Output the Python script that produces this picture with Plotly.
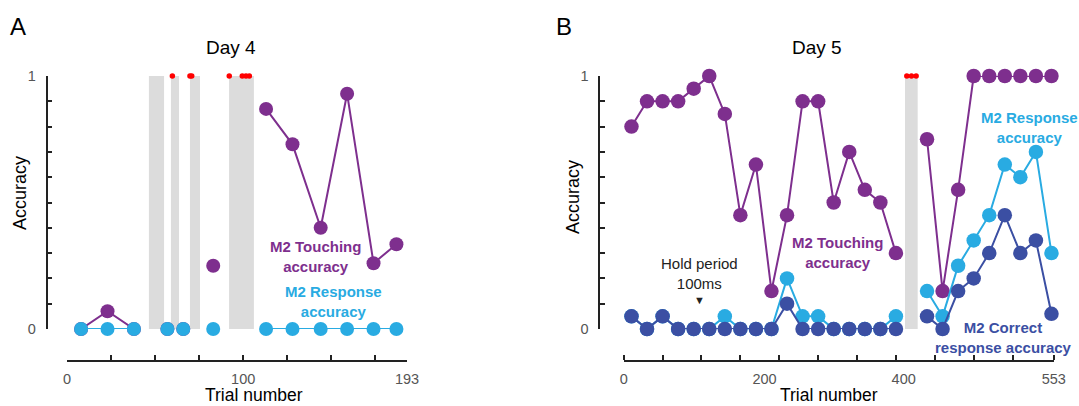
import plotly.graph_objects as go

W, H = 1079, 406


def px(x):
    return x / W


def py(y):
    return 1 - y / H


# ---------------- Panel A (Day 4) ----------------
trial_A = [8, 23, 38, 57, 66, 83, 113, 128, 144, 159, 174, 187]
segment_A = [0, 0, 0, 1, 2, 3, 4, 4, 4, 4, 4, 4]
touch_A = [0, 0.07, 0, 0, 0, 0.25, 0.87, 0.73, 0.40, 0.93, 0.26, 0.335]
response_A = [0, 0, 0, 0, 0, 0, 0, 0, 0, 0, 0, 0]
gap_start_A = [46.5, 59.0, 69.8, 92.0]
gap_end_A = [55.1, 63.6, 75.5, 106.1]
noresp_A = [59.8, 69.8, 70.8, 92.1, 99.5, 101.6, 103.5]
xticks_A = [0, 25, 50, 75, 100, 125, 150, 175, 193]
xticklabels_A = ["0", "", "", "", "100", "", "", "", "193"]

# ---------------- Panel B (Day 5) ----------------
trial_B = [10, 30, 50, 70, 90, 110, 130, 150, 170, 190, 210, 230, 250, 270, 290, 310, 330, 350,
           390, 410, 430, 450, 470, 490, 510, 530, 550]
segment_B = [0] * 18 + [1] * 9
touch_B = [0.80, 0.90, 0.90, 0.90, 0.95, 1.0, 0.85, 0.45, 0.65, 0.15, 0.45, 0.90, 0.90, 0.50,
           0.70, 0.55, 0.50, 0.30,
           0.75, 0.15, 0.55, 1.0, 1.0, 1.0, 1.0, 1.0, 1.0]
response_B = [0.05, 0, 0.05, 0, 0, 0, 0.05, 0, 0, 0, 0.20, 0.05, 0.05, 0, 0, 0, 0, 0.05,
              0.15, 0.05, 0.25, 0.35, 0.45, 0.65, 0.60, 0.70, 0.30]
correct_B = [0.05, 0, 0.05, 0, 0, 0, 0, 0, 0, 0, 0.10, 0, 0, 0, 0, 0, 0, 0,
             0.05, 0, 0.15, 0.20, 0.30, 0.45, 0.30, 0.35, 0.06]
gap_start_B = [361.7]
gap_end_B = [378.0]
noresp_B = [364, 370, 376]
xtick_marks_B = [0, 50, 100, 150, 200, 250, 300, 350, 400, 450, 500, 553]
xlabel_pos_B = [0, 181, 360, 553]
xlabel_text_B = ["0", "200", "400", "553"]

PURPLE = "#7E2F8E"
CYAN = "#29ABE2"
DARK = "#3B4FA3"
GRAY = "#DCDCDC"
RED = "#FF0000"
FONT = "Liberation Sans, Arial, sans-serif"


def with_breaks(xs, ys, segs):
    ox, oy = [], []
    for i, (x, y, s) in enumerate(zip(xs, ys, segs)):
        if i > 0 and s != segs[i - 1]:
            ox.append(None)
            oy.append(None)
        ox.append(x)
        oy.append(y)
    return ox, oy


fig = go.Figure()


def add_series(xs, ys, segs, color, size, xa, ya, name):
    bx, by = with_breaks(xs, ys, segs)
    fig.add_trace(go.Scatter(
        x=bx, y=by, mode="lines+markers", name=name, xaxis=xa, yaxis=ya,
        line=dict(color=color, width=2), marker=dict(color=color, size=size, line=dict(width=0)),
        connectgaps=False, cliponaxis=False, showlegend=False))


# Panel A traces (bottom -> top)
add_series(trial_A, touch_A, segment_A, PURPLE, 14, "x", "y", "M2 Touching accuracy")
add_series(trial_A, response_A, segment_A, CYAN, 14, "x", "y", "M2 Response accuracy")
fig.add_trace(go.Scatter(x=noresp_A, y=[1] * len(noresp_A), mode="markers", xaxis="x", yaxis="y",
                         marker=dict(color=RED, size=5.5, line=dict(width=0)),
                         cliponaxis=False, showlegend=False))

# Panel B traces
add_series(trial_B, touch_B, segment_B, PURPLE, 14.5, "x2", "y2", "M2 Touching accuracy")
add_series(trial_B, response_B, segment_B, CYAN, 14.5, "x2", "y2", "M2 Response accuracy")
add_series(trial_B, correct_B, segment_B, DARK, 14.5, "x2", "y2", "M2 Correct response accuracy")
fig.add_trace(go.Scatter(x=noresp_B, y=[1] * len(noresp_B), mode="markers", xaxis="x2", yaxis="y2",
                         marker=dict(color=RED, size=5.5, line=dict(width=0)),
                         cliponaxis=False, showlegend=False))

shapes = []
for s, e in zip(gap_start_A, gap_end_A):
    shapes.append(dict(type="rect", xref="x", yref="y", x0=s, x1=e, y0=0, y1=1,
                       fillcolor=GRAY, line=dict(width=0), layer="below"))
for s, e in zip(gap_start_B, gap_end_B):
    shapes.append(dict(type="rect", xref="x2", yref="y2", x0=s, x1=e, y0=0, y1=1,
                       fillcolor=GRAY, line=dict(width=0), layer="below"))

AX = dict(showgrid=False, zeroline=False, showline=True, linecolor="#222", linewidth=1.5,
          automargin=False,
          tickfont=dict(family=FONT, size=14.5, color="#555"), tickcolor="#222", tickwidth=1.5)

y_dom = [py(329), py(76)]
x_axis_pos = py(360.5)

fig.update_layout(
    template="none",
    width=W, height=H, autosize=False,
    margin=dict(l=0, r=0, t=0, b=0, pad=0, autoexpand=False),
    paper_bgcolor="white", plot_bgcolor="white",
    font=dict(family=FONT),
    shapes=shapes,
    xaxis=dict(AX, domain=[px(67), px(407)], range=[0, 193], anchor="free", position=x_axis_pos,
               tickmode="array", tickvals=xticks_A, ticktext=xticklabels_A,
               ticks="inside", ticklen=5, ticklabelstandoff=5),
    yaxis=dict(AX, domain=y_dom, range=[0, 1], anchor="free", position=px(46.5),
               tickmode="array", tickvals=[0, 1], ticktext=["0", "1"],
               ticks="inside", ticklen=5, ticklabelstandoff=7,
               minor=dict(dtick=0.1, tick0=0, ticks="inside", ticklen=5, tickcolor="#222", tickwidth=1.5)),
    xaxis2=dict(AX, domain=[px(623.7), px(1053.8)], range=[0, 553], anchor="free", position=x_axis_pos,
                tickmode="array", tickvals=xlabel_pos_B, ticktext=xlabel_text_B,
                ticks="", ticklabelstandoff=5,
                minor=dict(tickvals=xtick_marks_B, ticks="inside", ticklen=5, tickcolor="#222", tickwidth=1.5)),
    yaxis2=dict(AX, domain=y_dom, range=[0, 1], anchor="free", position=px(599.3),
                tickmode="array", tickvals=[0, 1], ticktext=["0", "1"],
                ticks="inside", ticklen=5, ticklabelstandoff=7,
                minor=dict(dtick=0.1, tick0=0, ticks="inside", ticklen=5, tickcolor="#222", tickwidth=1.5)),
)


def text(x, y, s, size, color="black", bold=False, angle=0):
    if bold:
        s = "<b>" + s.replace("<br>", "</b><br><b>") + "</b>"
    fig.add_annotation(x=px(x), y=py(y), xref="paper", yref="paper", text=s, showarrow=False,
                       xanchor="center", yanchor="middle", textangle=angle,
                       font=dict(family=FONT, size=size, color=color))


# Panel letters and titles
text(18, 26, "A", 24)
text(564, 26, "B", 24)
text(231, 47, "Day 4", 19)
text(817, 48, "Day 5", 19)
text(20, 193, "Accuracy", 18, angle=-90)
text(573, 197, "Accuracy", 18, angle=-90)
text(254, 394.5, "Trial number", 17.5)
text(829, 394.5, "Trial number", 17.5)

# Series labels
text(315, 256.5, "M2 Touching<br>accuracy", 15, PURPLE, bold=True)
text(333, 301.5, "M2 Response<br>accuracy", 15, CYAN, bold=True)
text(837, 252, "M2 Touching<br>accuracy", 15, PURPLE, bold=True)
text(1029, 127, "M2 Response<br>accuracy", 15, CYAN, bold=True)
text(1003, 337.7, "M2 Correct<br>response accuracy", 15, DARK, bold=True)
text(699, 273, "Hold period<br>100ms", 15, "#222")
text(699, 300, "▼", 11, "#222")

fig.write_html(
    "out.html",
    config={"responsive": False, "displayModeBar": False},
    post_script=("document.documentElement.style.margin='0';"
                 "document.body.style.margin='0';document.body.style.padding='0';"
                 "document.body.style.overflow='hidden';"),
)
